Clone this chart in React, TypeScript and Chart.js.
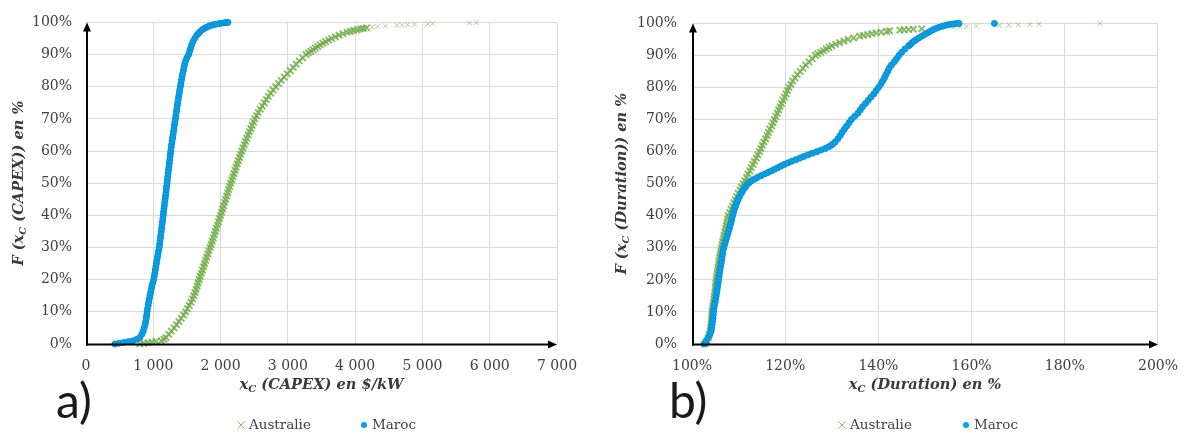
import React, { useEffect, useRef } from 'react';
import { Chart, registerables } from 'chart.js';

Chart.register(...registerables);

const SERIF = '"DejaVu Serif", serif';
const TICK_COLOR = '#404040';
const GRID_COLOR = '#d9d9d9';
const GREEN = 'rgba(112,173,71,0.82)';
const GREEN_LIGHT = 'rgba(112,173,71,0.55)';
const BLUE = '#0aa0e6';
const BLUE_BORDER = '#078fd4';

const seriesNames = ['Australie', 'Maroc'];
const capexTickLabels = ['0', '1 000', '2 000', '3 000', '4 000', '5 000', '6 000', '7 000'];
const durationTickLabels = ['100%', '120%', '140%', '160%', '180%', '200%'];

// [CAPEX $/kW, F %]
const australieCapex: [number, number][] = [
  [800, 0], [860, 0.2], [920, 0.4], [980, 0.6], [1040, 0.8], [1120, 1], [1160, 1.5], [1190, 2], [1230, 3], [1270, 4],
  [1310, 5], [1345, 6], [1380, 7], [1415, 8], [1450, 9], [1480, 10], [1508, 11], [1535, 12], [1560, 13], [1583, 14],
  [1603, 15], [1620, 16], [1636, 17], [1651, 18], [1666, 19], [1682, 20], [1697, 21], [1714, 22], [1730, 23], [1746, 24],
  [1762, 25], [1778, 26], [1794, 27], [1811, 28], [1828, 29], [1845, 30], [1860, 31], [1876, 32], [1891, 33], [1907, 34],
  [1922, 35], [1938, 36], [1953, 37], [1969, 38], [1984, 39], [2000, 40], [2015, 41], [2030, 42], [2045, 43], [2060, 44],
  [2075, 45], [2090, 46], [2105, 47], [2120, 48], [2135, 49], [2150, 50], [2166, 51], [2183, 52], [2199, 53], [2216, 54],
  [2232, 55], [2249, 56], [2265, 57], [2282, 58], [2298, 59], [2315, 60], [2333, 61], [2352, 62], [2371, 63], [2390, 64],
  [2410, 65], [2430, 66], [2450, 67], [2470, 68], [2490, 69], [2510, 70], [2535, 71], [2560, 72], [2590, 73], [2620, 74],
  [2650, 75], [2680, 76], [2710, 77], [2745, 78], [2780, 79], [2820, 80], [2860, 81], [2900, 82], [2945, 83], [2990, 84],
  [3035, 85], [3080, 86], [3125, 87], [3170, 88], [3220, 89], [3270, 90], [3305, 90.5], [3340, 91], [3375, 91.5], [3410, 92],
  [3445, 92.5], [3480, 93], [3520, 93.5], [3560, 94], [3605, 94.5], [3650, 95], [3705, 95.5], [3760, 96], [3820, 96.5],
  [3880, 97], [3930, 97.2], [3980, 97.5], [4030, 97.7], [4080, 98], [4120, 98.1], [4170, 98.3], [4250, 98.5], [4330, 98.7],
  [4450, 98.9], [4620, 99.1], [4700, 99.2], [4780, 99.3], [4880, 99.4], [5080, 99.5], [5150, 99.6], [5700, 99.8], [5800, 99.9],
];

const marocCapex: [number, number][] = [
  [430, 0], [490, 0.25], [560, 0.5], [630, 0.75], [700, 1], [760, 1.5], [800, 2], [830, 3], [850, 4], [865, 5],
  [878, 6], [888, 7], [896, 8], [902, 9], [908, 10], [916, 11], [924, 12], [932, 13], [940, 14], [950, 15],
  [960, 16], [970, 17], [980, 18], [992, 19], [1005, 20], [1014, 21], [1022, 22], [1030, 23], [1038, 24], [1046, 25],
  [1054, 26], [1062, 27], [1070, 28], [1078, 29], [1088, 30], [1094, 31], [1100, 32], [1106, 33], [1112, 34], [1118, 35],
  [1124, 36], [1130, 37], [1136, 38], [1142, 39], [1148, 40], [1153, 41], [1158, 42], [1164, 43], [1170, 44], [1176, 45],
  [1182, 46], [1188, 47], [1193, 48], [1198, 49], [1204, 50], [1209, 51], [1214, 52], [1220, 53], [1226, 54], [1232, 55],
  [1237, 56], [1242, 57], [1248, 58], [1254, 59], [1260, 60], [1266, 61], [1272, 62], [1279, 63], [1286, 64], [1293, 65],
  [1300, 66], [1307, 67], [1314, 68], [1321, 69], [1328, 70], [1335, 71], [1342, 72], [1349, 73], [1356, 74], [1363, 75],
  [1370, 76], [1378, 77], [1386, 78], [1394, 79], [1402, 80], [1410, 81], [1418, 82], [1427, 83], [1436, 84], [1446, 85],
  [1456, 86], [1467, 87], [1480, 88], [1500, 89], [1525, 90], [1540, 91], [1555, 92], [1570, 93], [1590, 94], [1615, 95],
  [1645, 96], [1668, 96.5], [1690, 97], [1720, 97.6], [1750, 98], [1780, 98.4], [1815, 98.7], [1850, 99], [1890, 99.25],
  [1930, 99.45], [1970, 99.6], [2010, 99.75], [2050, 99.85], [2080, 99.95], [2110, 100],
];

// [Duration %, F %]
const australieDuration: [number, number][] = [
  [102.8, 0], [103.2, 1], [103.5, 2], [103.7, 3], [103.9, 4], [104.0, 5], [104.1, 6], [104.15, 7], [104.2, 8], [104.25, 9],
  [104.3, 10], [104.4, 11], [104.5, 12], [104.6, 13], [104.7, 14], [104.8, 15], [104.9, 16], [105.0, 17], [105.05, 18], [105.1, 19],
  [105.2, 20], [105.3, 21], [105.4, 22], [105.5, 23], [105.6, 24], [105.7, 25], [105.8, 26], [105.95, 27], [106.05, 28], [106.2, 29],
  [106.3, 30], [106.45, 31], [106.6, 32], [106.75, 33], [106.9, 34], [107.05, 35], [107.2, 36], [107.35, 37], [107.5, 38], [107.65, 39],
  [107.8, 40], [108.1, 41], [108.4, 42], [108.7, 43], [109.0, 44], [109.3, 45], [109.6, 46], [109.9, 47], [110.3, 48], [110.6, 49],
  [111.0, 50], [111.35, 51], [111.7, 52], [112.0, 53], [112.4, 54], [112.7, 55], [113.1, 56], [113.4, 57], [113.8, 58], [114.1, 59],
  [114.5, 60], [114.8, 61], [115.1, 62], [115.4, 63], [115.8, 64], [116.1, 65], [116.4, 66], [116.7, 67], [117.1, 68], [117.4, 69],
  [117.7, 70], [118.0, 71], [118.3, 72], [118.6, 73], [118.9, 74], [119.2, 75], [119.5, 76], [119.9, 77], [120.2, 78], [120.5, 79],
  [120.8, 80], [121.2, 81], [121.6, 82], [122.1, 83], [122.6, 84], [123.2, 85], [123.8, 86], [124.4, 87], [125.1, 88], [125.8, 89],
  [126.5, 90], [127.0, 90.5], [127.6, 91], [128.2, 91.5], [128.8, 92], [129.4, 92.5], [130.0, 93], [130.8, 93.5], [131.7, 94],
  [132.6, 94.5], [133.5, 95], [134.7, 95.5], [136.0, 96], [136.8, 96.3], [137.7, 96.5], [138.6, 96.8], [139.5, 97], [140.6, 97.3],
  [141.8, 97.5], [142.4, 97.7], [144.6, 97.9], [145.5, 98.0], [146.5, 98.1], [147.5, 98.2], [149.3, 98.3], [156.2, 98.8], [157.5, 98.9],
  [158.9, 99.0], [161.0, 99.2], [166.0, 99.4], [168.0, 99.5], [170.0, 99.6], [172.5, 99.7], [174.5, 99.8], [187.5, 100],
];

const marocDuration: [number, number][] = [
  [102.6, 0], [102.9, 0.5], [103.1, 1], [103.5, 2], [103.8, 3], [104.1, 4], [104.2, 5], [104.3, 6], [104.4, 7], [104.5, 8],
  [104.55, 9], [104.6, 10], [104.7, 11], [104.8, 12], [104.95, 13], [105.1, 14], [105.2, 15], [105.3, 16], [105.4, 17], [105.5, 18],
  [105.6, 19], [105.7, 20], [105.8, 21], [105.9, 22], [106.0, 23], [106.1, 24], [106.25, 25], [106.35, 26], [106.45, 27], [106.55, 28],
  [106.65, 29], [106.8, 30], [107.0, 31], [107.2, 32], [107.4, 33], [107.6, 34], [107.8, 35], [108.0, 36], [108.2, 37], [108.4, 38],
  [108.55, 39], [108.7, 40], [108.9, 41], [109.1, 42], [109.35, 43], [109.6, 44], [109.9, 45], [110.2, 46], [110.6, 47], [111.0, 48],
  [111.5, 49], [112.0, 50], [112.4, 50.5], [112.9, 51], [113.5, 51.5], [114.1, 52], [114.8, 52.5], [115.6, 53], [116.3, 53.5], [117.0, 54],
  [117.7, 54.5], [118.4, 55], [119.1, 55.5], [119.8, 56], [120.6, 56.5], [121.4, 57], [122.3, 57.5], [123.2, 58], [124.0, 58.5], [124.9, 59],
  [125.8, 59.5], [126.8, 60], [127.7, 60.5], [128.6, 61], [129.3, 61.5], [129.9, 62], [130.3, 62.5], [130.7, 63], [131.3, 64], [131.8, 65],
  [132.2, 66], [132.7, 67], [133.2, 68], [133.7, 69], [134.2, 70], [134.9, 71], [135.6, 72], [136.1, 73], [136.6, 74], [137.2, 75],
  [137.8, 76], [138.4, 77], [139.0, 78], [139.5, 79], [140.0, 80], [140.5, 81], [140.9, 82], [141.3, 83], [141.6, 84], [142.0, 85],
  [142.3, 86], [142.8, 87], [143.4, 88], [143.9, 89], [144.4, 90], [145.0, 91], [145.7, 92], [146.5, 93], [146.9, 93.5], [147.2, 94],
  [147.7, 94.5], [148.2, 95], [148.7, 95.5], [149.3, 96], [149.9, 96.5], [150.5, 97], [151.1, 97.5], [151.7, 98], [152.3, 98.4],
  [153.0, 98.8], [153.7, 99.1], [154.4, 99.4], [155.0, 99.6], [155.6, 99.75], [156.2, 99.85], [156.8, 99.95], [157.3, 100], [164.9, 100],
];

type Part = { t: string; sub?: boolean };

const capexYTitle: Part[] = [{ t: 'F (x' }, { t: 'C', sub: true }, { t: ' (CAPEX)) en %' }];
const capexXTitle: Part[] = [{ t: 'x' }, { t: 'C', sub: true }, { t: ' (CAPEX) en $/kW' }];
const durationYTitle: Part[] = [{ t: 'F (x' }, { t: 'C', sub: true }, { t: ' (Duration)) en %' }];
const durationXTitle: Part[] = [{ t: 'x' }, { t: 'C', sub: true }, { t: ' (Duration) en %' }];

const TITLE_SIZE = 14.6;

function drawRich(ctx: CanvasRenderingContext2D, parts: Part[], cx: number, cy: number) {
  const mainFont = `italic bold ${TITLE_SIZE}px ${SERIF}`;
  const subFont = `italic bold ${Math.round(TITLE_SIZE * 0.68)}px ${SERIF}`;
  let total = 0;
  const widths = parts.map((p) => {
    ctx.font = p.sub ? subFont : mainFont;
    const w = ctx.measureText(p.t).width;
    total += w;
    return w;
  });
  let x = cx - total / 2;
  ctx.textAlign = 'left';
  ctx.textBaseline = 'middle';
  parts.forEach((p, i) => {
    ctx.font = p.sub ? subFont : mainFont;
    ctx.fillText(p.t, x, cy + (p.sub ? TITLE_SIZE * 0.3 : 0));
    x += widths[i];
  });
}

type Decor = {
  xTitle: Part[];
  yTitle: Part[];
  yTitleX: number;
  panel: string;
  panelX: number;
  legendCross: number;
  legendDot: number;
};

function makeDecor(d: Decor) {
  return {
    id: 'decor',
    afterDraw(chart: any) {
      const { ctx, chartArea: a } = chart;
      ctx.save();
      // axes with arrows
      ctx.strokeStyle = '#000';
      ctx.fillStyle = '#000';
      ctx.lineWidth = 2;
      const ax = a.left + 1;
      const ay = a.bottom + 0.5;
      ctx.beginPath();
      ctx.moveTo(ax, ay + 1);
      ctx.lineTo(ax, a.top + 6);
      ctx.stroke();
      ctx.beginPath();
      ctx.moveTo(ax, a.top);
      ctx.lineTo(ax - 4, a.top + 9);
      ctx.lineTo(ax + 4, a.top + 9);
      ctx.closePath();
      ctx.fill();
      ctx.beginPath();
      ctx.moveTo(ax - 1, ay);
      ctx.lineTo(a.right - 6, ay);
      ctx.stroke();
      ctx.beginPath();
      ctx.moveTo(a.right, ay);
      ctx.lineTo(a.right - 9, ay - 4);
      ctx.lineTo(a.right - 9, ay + 4);
      ctx.closePath();
      ctx.fill();

      // axis titles
      ctx.fillStyle = '#3a3a3a';
      const midX = (a.left + a.right) / 2;
      const midY = (a.top + a.bottom) / 2;
      drawRich(ctx, d.xTitle, midX, 385);
      ctx.save();
      ctx.translate(d.yTitleX, midY);
      ctx.rotate(-Math.PI / 2);
      drawRich(ctx, d.yTitle, 0, 0);
      ctx.restore();

      // legend
      const ly = 425;
      ctx.strokeStyle = GREEN;
      ctx.lineWidth = 1;
      const r = 3.5;
      ctx.beginPath();
      ctx.moveTo(d.legendCross - r, ly - r);
      ctx.lineTo(d.legendCross + r, ly + r);
      ctx.moveTo(d.legendCross - r, ly + r);
      ctx.lineTo(d.legendCross + r, ly - r);
      ctx.stroke();
      ctx.fillStyle = BLUE;
      ctx.beginPath();
      ctx.arc(d.legendDot, ly, 3, 0, Math.PI * 2);
      ctx.fill();
      ctx.fillStyle = TICK_COLOR;
      ctx.font = `13.5px ${SERIF}`;
      ctx.textAlign = 'left';
      ctx.textBaseline = 'middle';
      ctx.fillText(seriesNames[0], d.legendCross + 8, ly);
      ctx.fillText(seriesNames[1], d.legendDot + 8, ly);

      // panel label
      ctx.fillStyle = '#1a1a1a';
      ctx.font = `48px Lato, "Liberation Sans", sans-serif`;
      ctx.textBaseline = 'alphabetic';
      ctx.fillText(d.panel, d.panelX, 418);
      ctx.restore();
    },
  };
}

type Cfg = {
  australie: [number, number][];
  maroc: [number, number][];
  xMin: number;
  xMax: number;
  xStep: number;
  xLabels: string[];
  yWidth: number;
  yPad: number;
  padRight: number;
  decor: Decor;
};

function makeConfig(c: Cfg): any {
  const tickFont = { family: SERIF, size: 14 };
  const isTail = (ctx: any) => !!(ctx.raw && ctx.raw.y >= 98.5);
  return {
    type: 'scatter',
    data: {
      datasets: [
        {
          label: seriesNames[0],
          data: c.australie.map(([x, y]) => ({ x, y })),
          pointStyle: 'crossRot',
          pointRadius: (ctx: any) => (isTail(ctx) ? 3.5 : 4.5),
          pointBorderWidth: (ctx: any) => (isTail(ctx) ? 1 : 1.9),
          borderColor: (ctx: any) => (isTail(ctx) ? GREEN_LIGHT : GREEN),
          backgroundColor: GREEN,
          order: 1,
          clip: false,
        },
        {
          label: seriesNames[1],
          data: c.maroc.map(([x, y]) => ({ x, y })),
          pointStyle: 'circle',
          pointRadius: 3,
          pointBorderWidth: 1,
          borderColor: BLUE_BORDER,
          backgroundColor: BLUE,
          order: 0,
          clip: false,
        },
      ],
    },
    options: {
      responsive: false,
      animation: false,
      events: [],
      layout: { padding: { left: 0, right: c.padRight, top: 17, bottom: 0 } },
      plugins: { legend: { display: false }, tooltip: { enabled: false }, title: { display: false } },
      scales: {
        x: {
          type: 'linear',
          min: c.xMin,
          max: c.xMax,
          ticks: {
            stepSize: c.xStep,
            color: TICK_COLOR,
            font: tickFont,
            padding: 14,
            maxRotation: 0,
            callback: (v: number) => c.xLabels[Math.round((v - c.xMin) / c.xStep)] ?? '',
          },
          grid: { color: GRID_COLOR, lineWidth: 1, drawTicks: false },
          border: { display: false },
          afterFit: (s: any) => {
            s.height = 91;
          },
        },
        y: {
          type: 'linear',
          min: 0,
          max: 100,
          ticks: {
            stepSize: 10,
            color: TICK_COLOR,
            font: tickFont,
            padding: c.yPad,
            callback: (v: number) => `${v}%`,
          },
          grid: { color: GRID_COLOR, lineWidth: 1, drawTicks: false },
          border: { display: false },
          afterFit: (s: any) => {
            s.width = c.yWidth;
          },
        },
      },
    },
    plugins: [makeDecor(c.decor)],
  };
}

export default function App() {
  const refA = useRef<HTMLCanvasElement>(null);
  const refB = useRef<HTMLCanvasElement>(null);

  useEffect(() => {
    const chartA = new Chart(
      refA.current as HTMLCanvasElement,
      makeConfig({
        australie: australieCapex,
        maroc: marocCapex,
        xMin: 0,
        xMax: 7000,
        xStep: 1000,
        xLabels: capexTickLabels,
        yWidth: 86,
        yPad: 14,
        padRight: 39,
        decor: {
          xTitle: capexXTitle,
          yTitle: capexYTitle,
          yTitleX: 19,
          panel: 'a)',
          panelX: 56,
          legendCross: 241,
          legendDot: 364,
        },
      })
    );
    const chartB = new Chart(
      refB.current as HTMLCanvasElement,
      makeConfig({
        australie: australieDuration,
        maroc: marocDuration,
        xMin: 100,
        xMax: 200,
        xStep: 20,
        xLabels: durationTickLabels,
        yWidth: 96,
        yPad: 15,
        padRight: 29,
        decor: {
          xTitle: durationXTitle,
          yTitle: durationYTitle,
          yTitleX: 26,
          panel: 'b)',
          panelX: 73,
          legendCross: 246,
          legendDot: 370,
        },
      })
    );
    return () => {
      chartA.destroy();
      chartB.destroy();
    };
  }, []);

  return (
    <div style={{ position: 'absolute', left: 0, top: 0, width: 1192, height: 435, background: '#fff' }}>
      <canvas ref={refA} width={596} height={435} style={{ position: 'absolute', left: 0, top: 0, width: 596, height: 435 }} />
      <canvas ref={refB} width={596} height={435} style={{ position: 'absolute', left: 596, top: 0, width: 596, height: 435 }} />
    </div>
  );
}
